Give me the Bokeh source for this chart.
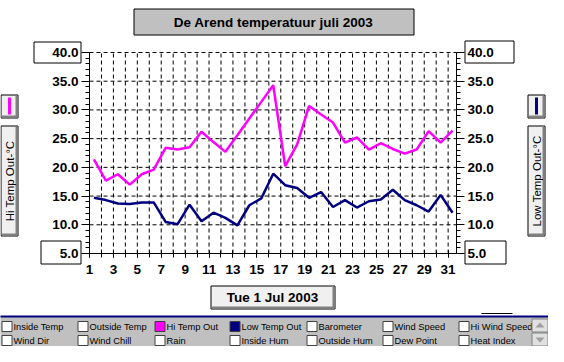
from math import pi
from bokeh.plotting import figure
from bokeh.models import (LinearAxis, FixedTicker, PrintfTickFormatter, Range1d,
                          ColumnDataSource)
from bokeh.core.properties import value
from bokeh.transform import dodge
from bokeh.embed import file_html
from bokeh.resources import INLINE

# ---------------- data ----------------
days = list(range(1, 32))
hi_temp = [21.4, 17.7, 18.8, 17.0, 18.8, 19.6, 23.4, 23.1, 23.5, 26.2, 24.4,
           22.7, 25.6, 28.5, 31.4, 34.3, 20.2, 24.0, 30.7, 29.2, 27.8, 24.3,
           25.2, 23.1, 24.2, 23.2, 22.4, 23.1, 26.3, 24.3, 26.4]
low_temp = [14.7, 14.3, 13.7, 13.6, 13.9, 13.9, 10.5, 10.1, 13.5, 10.6, 12.1,
            11.2, 9.9, 13.4, 14.6, 18.9, 16.9, 16.4, 14.7, 15.7, 13.1, 14.3,
            13.0, 14.1, 14.4, 16.1, 14.3, 13.4, 12.3, 15.2, 12.1]
y_ticks = [5, 10, 15, 20, 25, 30, 35, 40]
y_minor = list(range(5, 41))
x_label_days = list(range(1, 32, 2))
title_text = "De Arend temperatuur juli 2003"
date_text = "Tue 1 Jul 2003"
left_series = "Hi Temp Out-°C"
right_series = "Low Temp Out-°C"
legend_row1 = ["Inside Temp", "Outside Temp", "Hi Temp Out", "Low Temp Out",
               "Barometer", "Wind Speed", "Hi Wind Speed"]
legend_row2 = ["Wind Dir", "Wind Chill", "Rain", "Inside Hum", "Outside Hum",
               "Dew Point", "Heat Index"]

HI_COLOR = "#ff00ff"
LOW_COLOR = "#000080"
FONT = "Liberation Sans"

# ---------------- geometry (page pixels) ----------------
W, H = 548, 346
PX0, PX1, PY0, PY1 = 8, 8 + W, 8, 8 + H       # canvas extent on the page
FL, FR, FT, FB = 97, 464, 60, 261             # plot area on the page
X0, X1, Y0, Y1 = 1, 31.7, 5, 40               # data extent of the plot area


def X(px):
    return X0 + (px - FL) / (FR - FL) * (X1 - X0)


def Y(py):
    return Y1 - (py - FT) / (FB - FT) * (Y1 - Y0)


p = figure(width=W, height=H, output_backend="svg", toolbar_location=None,
           title=None,
           x_range=Range1d(X(PX0), X(PX1)), y_range=Range1d(Y(PY1), Y(PY0)),
           min_border=0, min_border_left=0, min_border_right=0,
           min_border_top=0, min_border_bottom=0)
p.extra_x_ranges = {"px": Range1d(PX0, PX1)}
p.extra_y_ranges = {"py": Range1d(PY1, PY0)}
p.outline_line_color = None
p.background_fill_color = "white"
p.border_fill_color = "white"
p.grid.visible = False


# ---------------- helpers for the window decorations ----------------
def box(l, t, r, b, fill=None, line="black", lw=1):
    p.quad(left=[l], right=[r], top=[t], bottom=[b],
           x_range_name="px", y_range_name="py",
           fill_color=fill if fill else "white", fill_alpha=1 if fill else 0,
           line_color=line if line else "black", line_alpha=1 if line else 0,
           line_width=lw)


def text(px, py, s, size, bold=False, align="center", baseline="middle", angle=0):
    p.text(x=[px], y=[py], text=[s], x_range_name="px", y_range_name="py",
           text_font=value(FONT), text_font_size=value(f"{size}px"),
           text_font_style=value("bold" if bold else "normal"),
           text_align=value(align), text_baseline=value(baseline),
           angle=angle, text_color="black")


def button(l, t, r, b, fill="#f0f0f0"):
    box(l + 0.5, t + 0.5, r - 0.5, b - 0.5, fill, "black")
    box(r - 3, t + 1, r - 1, b - 1, "#808080", None)
    box(l + 1, b - 3, r - 1, b - 1, "#808080", None)


# title
box(141.5, 16.5, 421.5, 42.5, "#c0c0c0", "black")
text(281, 29.5, title_text, 13.5, bold=True)

# boxes around the end labels of both value axes
box(41.5, 49.5, 88.5, 70.5)
box(48.5, 248.5, 88.5, 271.5)
box(472.5, 48.5, 521.5, 70.5)
box(472.5, 248.5, 513.5, 271.5)

# left series key
button(8, 102, 26, 126)
box(15.5, 105, 18.5, 122, HI_COLOR, None)
button(8, 133, 26, 244)
text(17, 188.5, left_series, 11.5, angle=pi / 2)

# right series key
button(535, 102, 553, 126)
box(542.5, 105, 545.5, 122, LOW_COLOR, None)
button(535, 133, 553, 244)
text(544, 188.5, right_series, 11.5, angle=pi / 2)

# date button
button(218, 293, 343, 317)
text(280, 305, date_text, 13.5, bold=True)

# small line segment
box(489, 320.5, 520, 321.5, "black", None)

# bottom panel with the series check boxes
box(0, 324, 560, 360, "#c0c0c0", None)
box(0, 323, 560, 325, LOW_COLOR, None)
col_x = [9, 85, 162, 237, 314, 390, 466]
row_y = [333.5, 347.5]
for ri, row in enumerate([legend_row1, legend_row2]):
    for ci, name in enumerate(row):
        cx, cy = col_x[ci], row_y[ri]
        fill = "white"
        if ri == 0 and ci == 2:
            fill = HI_COLOR
        if ri == 0 and ci == 3:
            fill = LOW_COLOR
        box(cx + 0.5, cy - 4.5, cx + 10.5, cy + 5.5, fill, "#404040")
        text(cx + 12, cy + 0.5, name, 9.3, align="left")

# scroll buttons
box(539.5, 326.5, 555.5, 339.5, "#e0e0e0", "#808080")
box(539.5, 340.5, 555.5, 353.5, "#e0e0e0", "#808080")
p.patch(x=[543, 552, 547.5], y=[335, 335, 330], x_range_name="px", y_range_name="py",
        fill_color="#a0a0a0", line_color=None)
p.patch(x=[543, 552, 547.5], y=[345, 345, 350], x_range_name="px", y_range_name="py",
        fill_color="#a0a0a0", line_color=None)

# ---------------- dashed grid (at the tick values) ----------------
grid_days = days[1:]
p.segment(x0=grid_days, y0=[Y0] * len(grid_days), x1=grid_days, y1=[Y1] * len(grid_days),
          line_color="black", line_width=1, line_dash="4 3")
grid_vals = y_ticks[1:]
p.segment(x0=[X0] * len(grid_vals), y0=grid_vals, x1=[X1] * len(grid_vals), y1=grid_vals,
          line_color="black", line_width=1, line_dash="4 3")

# ---------------- series ----------------
src = ColumnDataSource(dict(day=days, hi=hi_temp, low=low_temp))
p.line(x=dodge("day", 0.37), y="hi", source=src, line_color=HI_COLOR, line_width=2.5)
p.line(x=dodge("day", 0.37), y="low", source=src, line_color=LOW_COLOR, line_width=2.5)


# ---------------- axes (fixed at the plot area's edges) ----------------
def style_axis(ax):
    ax.axis_line_color = "black"
    ax.axis_line_width = 1
    ax.major_tick_line_color = "black"
    ax.minor_tick_line_color = "black"
    ax.major_label_text_font = FONT
    ax.major_label_text_font_style = "bold"
    ax.major_label_text_font_size = "13.5px"
    ax.major_label_text_color = "black"


def style_yaxis(ax, loc):
    style_axis(ax)
    ax.fixed_location = loc
    ax.bounds = (Y0, Y1)
    ax.ticker = FixedTicker(ticks=y_ticks, minor_ticks=y_minor)
    ax.formatter = PrintfTickFormatter(format="%.1f")
    ax.major_tick_in = 0
    ax.major_tick_out = 8
    ax.minor_tick_in = 0
    ax.minor_tick_out = 4
    ax.major_label_standoff = 3


style_yaxis(p.yaxis[0], X0)
raxis = LinearAxis()
style_yaxis(raxis, X1)
p.add_layout(raxis, "right")

xa = p.xaxis[0]
style_axis(xa)
xa.fixed_location = Y0
xa.bounds = (X0, X1)
xa.ticker = FixedTicker(ticks=x_label_days, minor_ticks=days)
xa.major_tick_in = 3
xa.major_tick_out = 4
xa.minor_tick_in = 3
xa.minor_tick_out = 4
xa.major_label_standoff = 7

open("out.html", "w").write(file_html(p, INLINE))
